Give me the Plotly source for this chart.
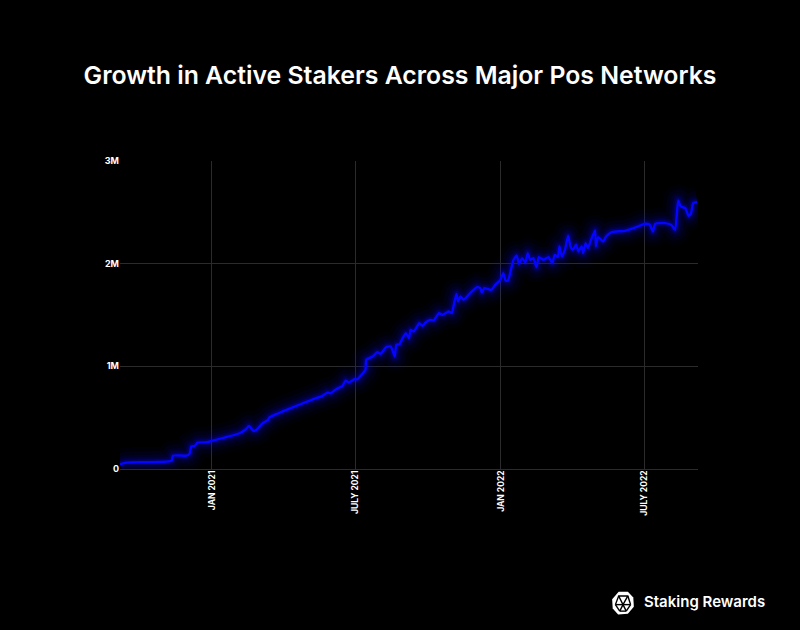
import base64
import plotly.graph_objects as go

# ---- data ----
dates = [
    "2020-09-07", "2020-09-15", "2020-11-11", "2020-11-13", "2020-11-30", "2020-12-04",
    "2020-12-06", "2020-12-10", "2020-12-14", "2020-12-25", "2021-01-02", "2021-02-05",
    "2021-02-13", "2021-02-17", "2021-02-22", "2021-02-26", "2021-03-06", "2021-03-13",
    "2021-03-15", "2021-05-12", "2021-05-19", "2021-05-27", "2021-05-31", "2021-06-07",
    "2021-06-15", "2021-06-19", "2021-06-23", "2021-06-30", "2021-07-04", "2021-07-10",
    "2021-07-14", "2021-07-15", "2021-07-23", "2021-07-29", "2021-08-02", "2021-08-09",
    "2021-08-15", "2021-08-20", "2021-08-22", "2021-08-26", "2021-08-30", "2021-09-03",
    "2021-09-07", "2021-09-09", "2021-09-13", "2021-09-20", "2021-09-24", "2021-09-28",
    "2021-10-04", "2021-10-08", "2021-10-15", "2021-10-19", "2021-10-27", "2021-10-31",
    "2021-11-03", "2021-11-06", "2021-11-08", "2021-11-11", "2021-11-15", "2021-11-24",
    "2021-12-02", "2021-12-06", "2021-12-08", "2021-12-11", "2021-12-16", "2021-12-20",
    "2021-12-25", "2021-12-31", "2022-01-04", "2022-01-07", "2022-01-10", "2022-01-17",
    "2022-01-21", "2022-01-24", "2022-01-28", "2022-02-01", "2022-02-04", "2022-02-07",
    "2022-02-11", "2022-02-15", "2022-02-18", "2022-02-24", "2022-03-02", "2022-03-07",
    "2022-03-10", "2022-03-14", "2022-03-16", "2022-03-19", "2022-03-23", "2022-03-27",
    "2022-03-30", "2022-04-02", "2022-04-06", "2022-04-09", "2022-04-13", "2022-04-15",
    "2022-04-18", "2022-04-21", "2022-04-25", "2022-04-30", "2022-05-01", "2022-05-04",
    "2022-05-10", "2022-05-14", "2022-05-21", "2022-06-07", "2022-06-21", "2022-07-02",
    "2022-07-08", "2022-07-12", "2022-07-15", "2022-07-27", "2022-08-04", "2022-08-09",
    "2022-08-13", "2022-08-16", "2022-08-22", "2022-08-26", "2022-08-29", "2022-09-01",
    "2022-09-06",
]
active_stakers = [
    45000, 62000, 81000, 130000, 130000, 150000,
    220000, 222000, 257000, 260000, 276000, 348000,
    387000, 420000, 374000, 380000, 445000, 478000,
    504000, 689000, 705000, 744000, 738000, 777000,
    810000, 861000, 842000, 874000, 874000, 926000,
    965000, 1063000, 1095000, 1137000, 1121000, 1186000,
    1193000, 1095000, 1209000, 1215000, 1274000, 1323000,
    1274000, 1355000, 1339000, 1420000, 1394000, 1427000,
    1453000, 1446000, 1518000, 1501000, 1534000, 1518000,
    1615000, 1706000, 1632000, 1680000, 1648000, 1719000,
    1771000, 1761000, 1719000, 1761000, 1752000, 1745000,
    1794000, 1836000, 1908000, 1836000, 1836000, 2038000,
    2077000, 1999000, 2054000, 2012000, 2103000, 2038000,
    2054000, 1966000, 2064000, 2038000, 2064000, 2005000,
    2086000, 2064000, 2168000, 2070000, 2135000, 2272000,
    2168000, 2135000, 2184000, 2119000, 2168000, 2103000,
    2200000, 2151000, 2233000, 2324000, 2168000, 2259000,
    2216000, 2265000, 2307000, 2320000, 2356000, 2389000,
    2379000, 2314000, 2389000, 2395000, 2379000, 2330000,
    2616000, 2558000, 2541000, 2467000, 2486000, 2590000,
    2600000,
]
x_tick_dates = ["2021-01-01", "2021-07-01", "2022-01-01", "2022-07-01"]
x_tick_labels = ["JAN 2021", "JULY 2021", "JAN 2022", "JULY 2022"]
y_tick_vals = [0, 1000000, 2000000, 3000000]
y_tick_labels = ["0", "1M", "2M", "3M"]

title_text = "Growth in Active Stakers Across Major Pos Networks"
brand_text = "Staking Rewards"

LINE = "#0505ff"

fig = go.Figure()

# soft glow layers
for w, a in [(30, 0.035), (22, 0.05), (15, 0.08), (10, 0.12), (6, 0.18)]:
    fig.add_trace(go.Scatter(
        x=dates, y=active_stakers, mode="lines",
        line=dict(color=f"rgba(10,10,255,{a})", width=w, shape="spline", smoothing=0.5),
        hoverinfo="skip", showlegend=False,
    ))
fig.add_trace(go.Scatter(
    x=dates, y=active_stakers, mode="lines",
    line=dict(color=LINE, width=2.4, shape="spline", smoothing=0.5),
    showlegend=False, name="Active stakers",
))

# logo icon as inline svg
svg = """<svg xmlns='http://www.w3.org/2000/svg' width='44' height='48' viewBox='0 0 44 48'>
<polygon points='14,3 31,3 41,14 42,31 31,44 13,45 3,34 2,17' fill='white'/>
<g stroke='black' stroke-width='2.6' fill='none' stroke-linejoin='round'>
<polygon points='14,11 31,11 22,27'/>
<line x1='14' y1='11' x2='8' y2='27'/>
<line x1='31' y1='11' x2='36' y2='27'/>
<line x1='8' y1='27' x2='22' y2='27'/>
<line x1='22' y1='27' x2='36' y2='27'/>
<line x1='8' y1='27' x2='16' y2='39'/>
<line x1='36' y1='27' x2='28' y2='39'/>
<line x1='22' y1='27' x2='16' y2='39'/>
<line x1='22' y1='27' x2='28' y2='39'/>
<line x1='16' y1='39' x2='28' y2='39'/>
</g></svg>"""
svg_src = "data:image/svg+xml;base64," + base64.b64encode(svg.encode()).decode()

L, R, T, B = 120, 102, 161, 161
PW, PH = 800 - L - R, 630 - T - B

def px(xp):
    return (xp - L) / PW

def py(yp):
    return (630 - B - yp) / PH

fig.update_layout(
    width=800, height=630,
    paper_bgcolor="black", plot_bgcolor="black",
    margin=dict(l=L, r=R, t=T, b=B),
    title=dict(text=title_text, x=0.5, xanchor="center", y=1 - 75 / 630, yanchor="middle",
               font=dict(family="Inter", size=24.8, color="white", weight=600)),
    xaxis=dict(
        range=["2020-09-07", "2022-09-07"],
        tickvals=x_tick_dates, ticktext=x_tick_labels, tickangle=-90,
        tickfont=dict(family="Inter", size=8.5, color="white", weight=700),
        ticklabelstandoff=-3,
        showgrid=True, gridcolor="#2b2b2b", gridwidth=1,
        zeroline=False, showline=True, linecolor="#2b2b2b", ticks="", ticklen=0,
    ),
    yaxis=dict(
        range=[0, 3000000],
        tickvals=y_tick_vals, ticktext=y_tick_labels,
        tickfont=dict(family="Inter", size=9, color="white", weight=700),
        showgrid=True, gridcolor="#2b2b2b", gridwidth=1,
        zeroline=False, showline=False, ticks="", ticklen=0,
    ),
    images=[dict(source=svg_src, xref="paper", yref="paper",
                 x=px(611), y=py(590), sizex=24 / PW, sizey=26 / PH,
                 xanchor="left", yanchor="top", sizing="contain", layer="above")],
    annotations=[dict(text=brand_text, xref="paper", yref="paper",
                      x=px(642), y=py(601), xanchor="left", yanchor="middle",
                      showarrow=False,
                      font=dict(family="Inter", size=15, color="white", weight=600))],
)

fig.write_html(
    "out.html",
    config={"displayModeBar": False},
    post_script="document.body.style.margin='0';document.body.style.background='black';",
)
